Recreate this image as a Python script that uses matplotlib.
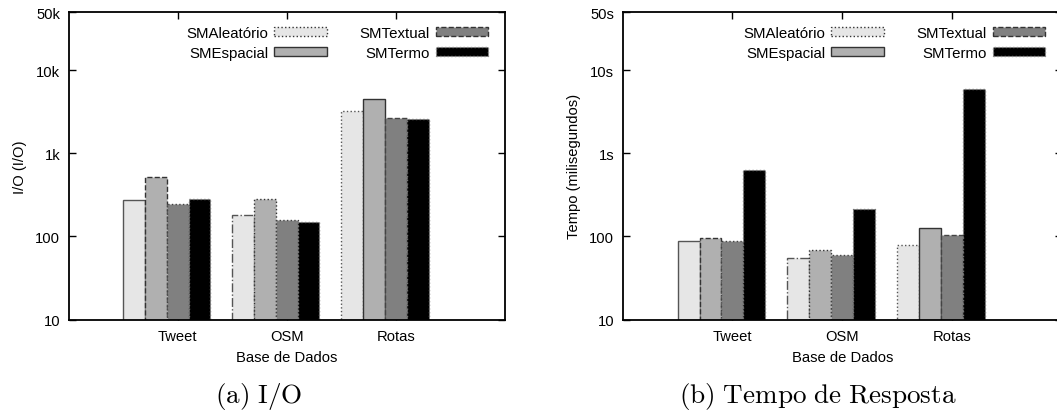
import matplotlib
matplotlib.use("Agg")
import matplotlib.pyplot as plt
from matplotlib.patches import Patch
import numpy as np

plt.rcParams['font.family'] = ['Liberation Sans', 'DejaVu Sans']
plt.rcParams['mathtext.fontset'] = 'cm'

categories = ["Tweet", "OSM", "Rotas"]
series = ["SMAleatório", "SMEspacial", "SMTextual", "SMTermo"]

# I/O values
io_aleatorio = [272, 182, 3200]
io_espacial = [518, 285, 4480]
io_textual = [245, 157, 2690]
io_termo = [283, 149, 2570]

# Response time (ms)
t_aleatorio = [88, 55, 78]
t_espacial = [95, 69, 127]
t_textual = [87, 60, 105]
t_termo = [624, 211, 6000]

io_ticks = [10, 100, 1000, 10000, 50000]
io_ticklabels = ["10", "100", "1k", "10k", "50k"]
t_ticks = [10, 100, 1000, 10000, 50000]
t_ticklabels = ["10", "100", "1s", "10s", "50s"]

colors = ["#e6e6e6", "#b0b0b0", "#808080", "#000000"]
legend_styles = [":", "-", "--", ":"]
edge_styles = [["-", "--", ":", ":"],
               ["-.", ":", ":", ":"],
               [":", "-", "--", ":"]]
edge_colors = ["#555555", "#333333", "#444444", "#777777"]

fig = plt.figure(figsize=(10.57, 4.14), dpi=100)
ax1 = fig.add_axes([68.5/1057, 1 - 320.5/414, 436.5/1057, 307.5/414])
ax2 = fig.add_axes([622.7/1057, 1 - 320.5/414, 439.0/1057, 307.5/414])

bar_w = 0.2
offsets = [-0.4, -0.2, 0.0, 0.2]


def draw(ax, data, ticks, ticklabels, ylabel):
    x = np.arange(len(categories))
    ax.set_yscale('log')
    for si, vals in enumerate(data):
        for ci, v in enumerate(vals):
            ax.bar(x[ci] + offsets[si], v, width=bar_w,
                   color=colors[si], edgecolor=edge_colors[si],
                   linewidth=1.0, linestyle=edge_styles[ci][si], zorder=2)
    ax.set_ylim(10, 50000)
    ax.set_xlim(-1, 3)
    ax.set_yticks(ticks)
    ax.set_yticklabels(ticklabels)
    ax.yaxis.set_minor_locator(matplotlib.ticker.NullLocator())
    ax.set_xticks(x)
    ax.set_xticklabels(categories)
    ax.tick_params(axis='both', direction='in', length=5, width=1.0,
                   top=True, right=True, labelsize=10.6)
    ax.tick_params(axis='y', pad=6)
    ax.tick_params(axis='x', pad=7)
    for s in ax.spines.values():
        s.set_linewidth(1.3)
    ax.set_xlabel("Base de Dados", fontsize=10.6, labelpad=5)
    ax.set_ylabel(ylabel, fontsize=10.6, labelpad=6)
    handles = [Patch(facecolor=colors[i], edgecolor="#333333" if i != 3 else "#888888",
                     linestyle=legend_styles[i], linewidth=1.0, label=series[i])
               for i in range(4)]
    ax.legend(handles=handles, ncol=2, loc='upper right', frameon=False,
              markerfirst=False, fontsize=10.8, handlelength=3.5, handleheight=0.6,
              handletextpad=0.4, columnspacing=2.2, labelspacing=0.4,
              borderpad=0, borderaxespad=0, bbox_to_anchor=(0.962, 0.955))


draw(ax1, [io_aleatorio, io_espacial, io_textual, io_termo],
     io_ticks, io_ticklabels, "I/O (I/O)")
draw(ax2, [t_aleatorio, t_espacial, t_textual, t_termo],
     t_ticks, t_ticklabels, "Tempo (milisegundos)")
ax2.spines['right'].set_visible(False)
ax2.legend_.set_bbox_to_anchor((0.963, 0.955))

fig.text(259/1057, 1 - 397/414, r"$\mathrm{(a)\ I/O}$", ha='center', va='center', fontsize=19.5)
fig.text(818/1057, 1 - 397/414, r"$\mathrm{(b)\ Tempo\ de\ Resposta}$", ha='center', va='center', fontsize=19.5)

fig.savefig("out.png", dpi=100)
